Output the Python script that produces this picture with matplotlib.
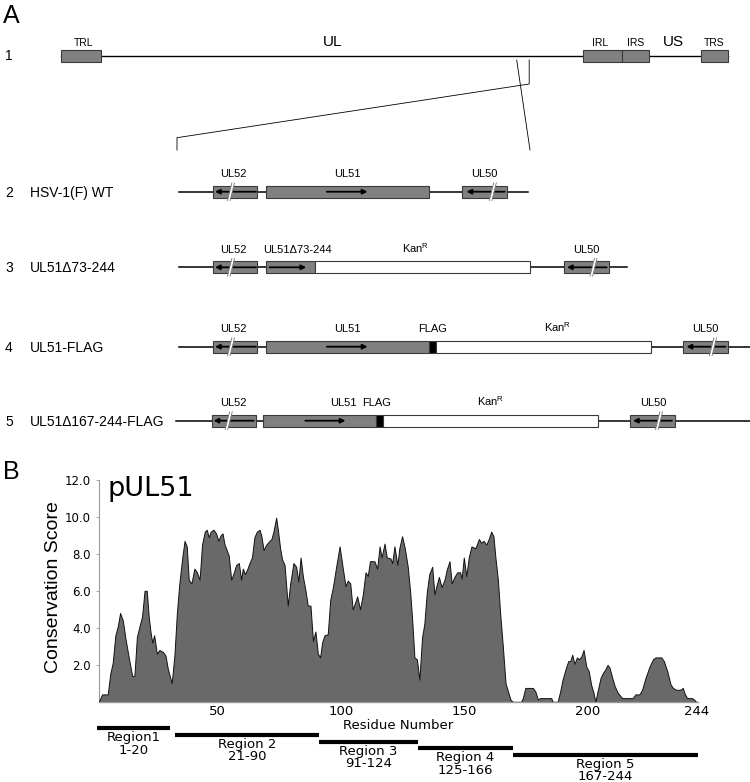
import matplotlib
matplotlib.use("Agg")
import matplotlib.pyplot as plt
from matplotlib.patches import Rectangle, Polygon

# ---------------------------------------------------------------- data (panel A, map units)
GENOME_Y = 55.5
GENOME_LINE = (61, 728)
GENOME_BOXES = [(61.2, 101.0), (582.8, 622.0), (622.0, 648.8), (701.4, 728.2)]
GENOME_LABELS = [(84, "TRL", 7.5), (332.5, "UL", 11), (600, "IRL", 7.5),
                 (636, "IRS", 7.5), (673.7, "US", 11), (714, "TRS", 7.5)]
ZOOM_LINE_A = ([516.7, 530.0], [60, 150])
ZOOM_LINE_B = ([529.2, 529.2, 177.0, 177.0], [60, 84, 137.7, 150])

ROW_Y = [191.7, 267.3, 346.7, 420.7]
ROW_NUM = ["2", "3", "4", "5"]
ROW_NAME = ["HSV-1(F) WT", "UL51\u039473-244", "UL51-FLAG", "UL51\u0394167-244-FLAG"]
ROW_LINE = [(178.5, 527.8), (178.5, 626.8), (178.5, 750), (176, 750)]
ROW_SEGMENTS = [
    [(213.4, 257.4, "gene"), (265.6, 429.2, "gene"), (462.2, 507.2, "gene")],
    [(213.4, 257.4, "gene"), (265.6, 314.8, "gene"), (314.8, 529.7, "kan"),
     (563.6, 608.6, "gene")],
    [(213.4, 257.4, "gene"), (265.6, 429.2, "gene"), (429.2, 436.4, "flag"),
     (436.4, 650.7, "kan"), (682.8, 727.8, "gene")],
    [(211.5, 255.5, "gene"), (263.2, 375.6, "gene"), (375.6, 382.8, "flag"),
     (382.8, 597.6, "kan"), (629.7, 674.6, "gene")],
]
ROW_ARROWS = [
    [(256.0, 215.0), (326.8, 367.5), (504.8, 466.5)],
    [(256.0, 215.0), (269.4, 306.2), (606.7, 567.0)],
    [(256.0, 215.0), (326.8, 367.5), (725.5, 686.5)],
    [(253.6, 213.5), (305.3, 345.5), (672.0, 633.0)],
]
ROW_BREAKS = [[231.0, 492.8], [231.0, 593.5], [231.0, 713.0], [228.7, 659.0]]
KAN = "Kan$^{\\mathregular{R}}$"
ROW_LABELS = [
    [(233, "UL52"), (347, "UL51"), (484, "UL50")],
    [(233, "UL52"), (297, "UL51\u039473-244"), (416, KAN), (586, "UL50")],
    [(233, "UL52"), (347, "UL51"), (433, "FLAG"), (557.4, KAN), (705.7, "UL50")],
    [(233, "UL52"), (343.5, "UL51"), (376.6, "FLAG"), (490.4, KAN), (653, "UL50")],
]

# ---------------------------------------------------------------- data (panel B)
residue = [2.1, 3.4, 5.7, 6.7, 7.7, 8.8, 9.8, 10.7, 11.8, 12.9, 14.2, 15.6, 16.5,
           17.5, 18.6, 19.6, 20.6, 21.5, 22.3, 23.0, 23.7, 24.5, 25.6, 26.6, 28.0,
           29.1, 30.0, 31.6, 32.7, 33.7, 34.7, 35.8, 36.8, 37.7, 38.5, 39.6, 40.8,
           41.8, 42.9, 43.9, 45.0, 45.8, 46.6, 47.4, 48.5, 49.6, 50.5, 51.4, 52.2,
           53.0, 53.9, 54.7, 55.7, 56.8, 57.7, 58.8, 59.7, 60.4, 61.3, 62.3, 63.1,
           64.1, 65.1, 66.1, 67.2, 68.0, 68.8, 69.9, 71.2, 72.0, 72.8, 73.9, 74.6,
           75.5, 76.3, 77.3, 78.6, 79.6, 80.9, 82.0, 82.9, 83.8, 84.7, 85.8, 86.7,
           87.8, 88.8, 89.8, 90.8, 91.7, 92.5, 93.5, 94.8, 95.8, 96.9, 98.2, 99.6,
           100.9, 102.0, 102.9, 103.9, 104.9, 106.0, 106.7, 107.9, 109.0, 110.1,
           111.0, 111.9, 113.7, 114.8, 115.8, 116.6, 117.8, 118.7, 120.2, 120.9,
           121.8, 123.0, 123.8, 124.9, 126.0, 127.2, 128.2, 129.0, 129.9, 130.9,
           131.9, 133.0, 133.9, 134.9, 135.9, 137.1, 138.0, 138.9, 139.8, 140.9,
           142.1, 143.0, 144.1, 145.0, 146.1, 147.2, 148.4, 149.0, 149.9, 150.9,
           151.9, 153.0, 154.6, 156.0, 156.9, 157.9, 159.0, 160.0, 161.0, 161.9,
           162.7, 163.7, 164.6, 165.7, 166.8, 167.7, 168.8, 169.7, 173.1, 173.8,
           174.8, 175.5, 177.9, 178.9, 179.9, 180.8, 185.3, 185.9, 187.9, 188.9,
           189.9, 191.3, 192.2, 193.0, 193.8, 194.7, 195.7, 196.5, 197.5, 198.4,
           199.5, 200.5, 201.5, 202.4, 203.2, 204.2, 205.3, 206.2, 207.2, 208.1,
           208.9, 210.0, 211.0, 212.2, 214.0, 218.3, 219.4, 221.0, 222.1, 223.5,
           225.1, 226.5, 227.5, 229.9, 230.9, 232.3, 233.6, 234.6, 235.9, 237.5,
           238.6, 239.3, 240.3, 242.4, 243.3, 244.0]
score = [0.0, 0.4, 0.4, 1.5, 2.1, 3.6, 4.1, 4.8, 4.4, 3.4, 2.4, 1.4, 1.4,
         3.5, 4.1, 4.6, 6.0, 6.0, 4.6, 3.8, 3.2, 3.6, 2.6, 2.8, 2.7,
         2.5, 1.8, 1.0, 2.5, 4.8, 6.4, 7.7, 8.7, 8.4, 6.6, 6.4, 7.2,
         7.0, 6.6, 8.5, 9.2, 9.3, 8.9, 9.2, 9.3, 9.1, 8.7, 9.0, 9.1,
         8.5, 8.2, 7.9, 6.6, 7.0, 7.4, 7.5, 6.6, 7.2, 6.9, 7.2, 7.5,
         7.8, 8.9, 9.2, 9.3, 8.9, 8.2, 8.5, 8.7, 8.8, 9.2, 9.95, 9.3,
         8.3, 7.7, 7.4, 5.2, 6.4, 7.5, 7.3, 6.5, 7.8, 6.8, 6.0, 5.2,
         5.2, 3.3, 3.8, 2.6, 2.4, 3.2, 3.6, 3.65, 5.5, 6.2, 7.3, 8.4,
         7.2, 6.25, 6.55, 6.4, 5.0, 5.4, 5.7, 5.0, 5.8, 7.0,
         6.8, 7.6, 7.6, 7.2, 8.4, 7.8, 8.55, 7.8, 7.75, 7.5,
         8.4, 7.4, 8.3, 8.95, 8.3, 7.3, 5.9, 4.4, 2.4, 2.3,
         1.2, 3.5, 4.2, 5.9, 6.9, 7.3, 5.8, 6.3, 6.75, 6.2,
         6.6, 7.15, 7.6, 6.4, 6.75, 7.0, 7.0, 6.65, 7.8, 6.8,
         7.8, 8.4, 8.3, 8.8, 8.6, 8.7, 8.5, 8.8, 9.2, 8.95,
         7.8, 6.6, 4.8, 3.0, 1.0, 0.6, 0.12, 0.0, 0.0, 0.2,
         0.75, 0.75, 0.75, 0.55, 0.12, 0.2, 0.2, 0.0, 0.0, 0.55,
         1.2, 1.85, 2.2, 2.2, 2.55, 2.05, 2.4, 2.3, 2.45, 2.8,
         1.9, 1.65, 0.9, 0.5, 0.0, 0.65, 1.3, 1.55, 1.75, 2.0,
         1.85, 1.3, 0.85, 0.5, 0.2, 0.2, 0.4, 0.4, 0.65, 1.3,
         1.9, 2.3, 2.4, 2.4, 2.2, 1.65, 0.95, 0.75, 0.65, 0.65,
         0.75, 0.45, 0.2, 0.2, 0.1, 0.0]

y_ticks = [2, 4, 6, 8, 10, 12]
x_ticks = [50, 100, 150, 200, 244]
region_names = ["Region1", "Region 2", "Region 3", "Region 4", "Region 5"]
region_ranges = ["1-20", "21-90", "91-124", "125-166", "167-244"]
region_span = [(1.1, 30.9), (32.6, 91.0), (91.0, 131.1), (131.1, 169.5), (169.5, 244.7)]
region_drop = [-0.117, -0.147, -0.177, -0.207, -0.237]   # axes fraction below x axis

GRAY = "#808080"
EDGE = "#3a3a3a"
SANS = ["Liberation Sans", "DejaVu Sans"]

fig = plt.figure(figsize=(7.5, 7.82), dpi=100)

# ============================================================== Panel A
ax0 = fig.add_axes([0, 0, 1, 1])
ax0.set_xlim(0, 750)
ax0.set_ylim(782, 0)
ax0.axis("off")


def draw_box(x0, x1, yc, h, kind):
    fc = {"gene": GRAY, "kan": "white", "flag": "black"}[kind]
    ax0.add_patch(Rectangle((x0, yc - h / 2), x1 - x0, h, facecolor=fc,
                            edgecolor=EDGE, lw=0.8, zorder=3))


def draw_break(x, yc, h):
    # the "//" mark cutting a gene box
    yb, yt = yc + h / 2 + 3, yc - h / 2 - 3
    s, g = 2.2, 2.6
    pts = [(x - s - g / 2, yb), (x - s + g / 2, yb), (x + s + g / 2, yt), (x + s - g / 2, yt)]
    ax0.add_patch(Polygon(pts, closed=True, facecolor="white", edgecolor="none", zorder=6))
    for d in (-g / 2, g / 2):
        ax0.plot([x - s + d, x + s + d], [yb, yt], color="#777777", lw=0.6, zorder=7)


ax0.text(3, 16, "A", fontsize=18, family=SANS, va="center", ha="left")
ax0.text(3, 472, "B", fontsize=18, family=SANS, va="center", ha="left")

# row 1: genome
ax0.text(5, GENOME_Y + 1, "1", fontsize=10, family=SANS, va="center")
ax0.plot(GENOME_LINE, [GENOME_Y, GENOME_Y], color="k", lw=1.0, zorder=2)
for x0, x1 in GENOME_BOXES:
    draw_box(x0, x1, GENOME_Y, 12, "gene")
for x, t, fs in GENOME_LABELS:
    ax0.text(x, 46.5, t, fontsize=fs, family=SANS, ha="center", va="baseline")
ax0.plot(*ZOOM_LINE_A, color="k", lw=0.6)
ax0.plot(*ZOOM_LINE_B, color="k", lw=0.6)

# rows 2-5: constructs
for i, yc in enumerate(ROW_Y):
    ax0.text(5, yc + 1, ROW_NUM[i], fontsize=10, family=SANS, va="center")
    ax0.text(29.5, yc + 1, ROW_NAME[i], fontsize=10, family=SANS, va="center")
    ax0.plot(ROW_LINE[i], [yc, yc], color="k", lw=1.1, zorder=2)
    for x0, x1, kind in ROW_SEGMENTS[i]:
        draw_box(x0, x1, yc, 11.7, kind)
    for xs, xe in ROW_ARROWS[i]:
        ax0.annotate("", xy=(xe, yc), xytext=(xs, yc), zorder=5,
                     arrowprops=dict(arrowstyle="-|>", color="k", lw=1.3,
                                     mutation_scale=7, shrinkA=0, shrinkB=0))
    for xb in ROW_BREAKS[i]:
        draw_break(xb, yc, 11.7)
    for x, t in ROW_LABELS[i]:
        ax0.text(x, yc - 14.5, t, fontsize=8, family=SANS, ha="center", va="baseline")

# ============================================================== Panel B
ax = fig.add_axes([99.1 / 750, (782 - 702.3) / 782, (697.9 - 99.1) / 750, 222 / 782])
ax.set_facecolor("none")
ax.fill_between(residue, score, 0, facecolor="#696969", edgecolor="none", zorder=2)
ax.plot(residue, score, color="#111111", lw=0.7, zorder=3)
ax.set_xlim(2.0, 244.5)
ax.set_ylim(0, 12)

for side in ("top", "right"):
    ax.spines[side].set_visible(False)
ax.spines["left"].set_color("#9a9a9a")
ax.spines["left"].set_linewidth(0.8)
ax.spines["bottom"].set_color("#9a9a9a")
ax.spines["bottom"].set_linewidth(1.0)

ax.set_yticks(y_ticks)
ax.set_yticklabels([f"{v:.1f}" for v in y_ticks])
ax.set_xticks(x_ticks)
ax.set_xticklabels([str(v) for v in x_ticks])
ax.tick_params(axis="y", length=2.5, width=0.6, color="#9a9a9a", pad=3.5, labelsize=8.5)
ax.tick_params(axis="x", length=0, pad=2, labelsize=9.5)
for lab in ax.get_xticklabels() + ax.get_yticklabels():
    lab.set_family("DejaVu Sans")

ax.set_xlabel("Residue Number", fontsize=9.5, family="DejaVu Sans", labelpad=1)

ax0.text(108, 496, "pUL51", fontsize=19.5, family="DejaVu Sans", ha="left", va="baseline")
ax0.text(53.3, 587, "Conservation Score", fontsize=14, family=SANS,
         rotation=90, ha="center", va="center")

# region bars below the axis
xt = ax.get_xaxis_transform()
for name, rng, (r0, r1), yb in zip(region_names, region_ranges, region_span, region_drop):
    ax.hlines(yb, r0, r1, transform=xt, color="k", lw=3.0, clip_on=False)
    xc = (r0 + r1) / 2
    ax.annotate(name, xy=(xc, yb), xycoords=xt, xytext=(0, -6.8),
                textcoords="offset points", ha="center", va="center",
                fontsize=9.5, family="DejaVu Sans", annotation_clip=False)
    ax.annotate(rng, xy=(xc, yb), xycoords=xt, xytext=(0, -15.8),
                textcoords="offset points", ha="center", va="center",
                fontsize=9.5, family="DejaVu Sans", annotation_clip=False)

fig.savefig("out.png", dpi=100)
